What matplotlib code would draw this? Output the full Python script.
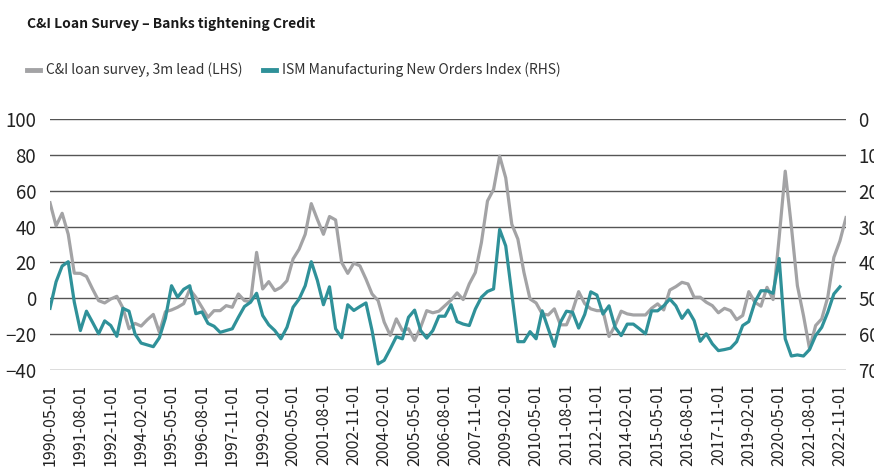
import matplotlib
matplotlib.use("Agg")
import matplotlib.pyplot as plt
import numpy as np
import pandas as pd
from matplotlib.lines import Line2D

# humanist, fairly narrow latin (Source Sans based) - closest to the original condensed face
FONT = ["Noto Sans CJK SC", "DejaVu Sans"]
plt.rcParams["font.family"] = FONT

GREY = "#a3a3a5"
TEAL = "#2f9199"
GRID = "#555555"

# quarterly, starting 1990-05-01; loan survey carries a 3m lead (one extra quarter)
dates = pd.date_range("1990-05-01", periods=132, freq="3MS")

# C&I loan survey, net % tightening (LHS)
loan_survey = [
    53.3, 40.4, 47.4, 35.7, 14.0, 13.9, 12.2, 5.2, -1.3, -2.6,
    -0.4, 1.1, -5.4, -17.0, -14.0, -15.5, -12.0, -9.0, -19.0, -7.5,
    -6.5, -5.0, -3.0, 5.0, 0.6, -5.0, -10.6, -6.9, -6.9, -4.1,
    -5.0, 2.4, -1.3, -2.0, 25.6, 5.2, 9.3, 4.3, 6.1, 9.8,
    21.9, 27.4, 35.7, 52.8, 44.0, 35.7, 45.6, 43.7, 20.0, 13.9,
    19.6, 18.1, 10.7, 2.4, -1.3, -13.3, -20.7, -11.5, -18.0, -17.0,
    -23.5, -16.1, -6.9, -8.1, -7.2, -4.1, -1.0, 3.0, -0.7, 8.0,
    14.4, 31.1, 54.3, 60.7, 79.3, 67.2, 41.3, 33.0, 14.4, -0.4,
    -2.6, -8.7, -9.3, -5.9, -14.8, -14.8, -6.9, 3.7, -3.0, -5.9,
    -6.9, -6.9, -21.3, -15.2, -7.2, -8.7, -9.3, -9.3, -9.3, -5.6,
    -3.1, -6.5, 4.6, 6.5, 8.9, 8.0, 0.6, 0.6, -2.2, -4.1,
    -8.1, -5.6, -6.9, -11.9, -9.6, 3.7, -2.2, -4.4, 6.1, -0.7,
    33.9, 70.9, 40.4, 7.0, -9.6, -28.1, -15.2, -11.5, 0.6, 22.8,
    32.0, 45.0,
]

# ISM Manufacturing New Orders Index (RHS, inverted)
ism_new_orders = [
    52.8, 45.4, 41.0, 39.8, 51.1, 59.0, 53.6, 56.7, 59.9, 56.3,
    57.6, 60.6, 52.8, 53.6, 60.0, 62.5, 63.0, 63.5, 61.0, 55.5,
    46.5, 49.7, 47.5, 46.5, 54.3, 53.8, 57.0, 57.8, 59.5, 59.0,
    58.5, 55.3, 52.3, 51.1, 48.6, 54.8, 57.4, 59.0, 61.3, 58.1,
    52.5, 50.2, 46.5, 39.8, 45.0, 51.8, 46.8, 58.5, 61.0, 51.8,
    53.4, 52.3, 51.3, 59.0, 68.3, 67.3, 64.1, 60.7, 61.3, 55.3,
    53.3, 59.0, 61.1, 59.0, 55.0, 55.0, 51.8, 56.5, 57.2, 57.6,
    53.0, 49.7, 48.1, 47.4, 30.8, 35.4, 48.8, 62.1, 62.1, 59.3,
    61.3, 53.5, 58.5, 63.4, 56.7, 53.6, 53.9, 58.3, 54.5, 48.2,
    49.1, 54.4, 52.1, 58.1, 60.4, 57.2, 57.2, 58.5, 59.9, 53.5,
    53.5, 52.1, 50.2, 52.1, 55.6, 53.3, 56.2, 62.0, 59.9, 62.7,
    64.6, 64.3, 63.9, 62.1, 57.6, 56.5, 51.1, 47.9, 47.9, 48.6,
    38.9, 61.3, 66.1, 65.8, 66.1, 64.3, 60.4, 58.1, 53.9, 48.8,
    46.8,
]

left_ticks = [-40, -20, 0, 20, 40, 60, 80, 100]
right_ticks = [0, 10, 20, 30, 40, 50, 60, 70]

fig = plt.figure(figsize=(8.74, 4.68), dpi=100)
ax = fig.add_axes([50 / 874, 98 / 468, 796 / 874, 251 / 468])
ax2 = ax.twinx()

x_loan = np.arange(len(loan_survey))
x_ism = np.arange(len(ism_new_orders))

ax.plot(x_loan, loan_survey, color=GREY, lw=2.3)
ax2.plot(x_ism, ism_new_orders, color=TEAL, lw=2.3)

ax.set_xlim(0, len(loan_survey) - 1)
ax.set_ylim(-40, 100)
ax2.set_ylim(70, 0)
ax.set_yticks(left_ticks)
ax2.set_yticks(right_ticks)

tick_pos = list(range(0, len(ism_new_orders), 5))
ax.set_xticks(tick_pos)
ax.set_xticklabels([dates[i].strftime("%Y-%m-%d") for i in tick_pos], rotation=90)

for a in (ax, ax2):
    for s in a.spines.values():
        s.set_visible(False)
    a.tick_params(length=0, labelsize=13.5, colors="#222222")
ax.tick_params(axis="y", pad=10)
ax.tick_params(axis="x", pad=10, labelsize=11.5)
ax2.tick_params(axis="y", pad=9)

ax.grid(axis="y", color=GRID, lw=1.0)
ax.set_axisbelow(True)

fig.text(27 / 874, 1 - 24 / 468, "C&I Loan Survey \u2013 Banks tightening Credit",
         fontsize=10, fontweight="bold", va="center", ha="left", color="#1a1a1a")

handles = [Line2D([], [], color=GREY, lw=3.5), Line2D([], [], color=TEAL, lw=3.5)]
fig.legend(handles, ["C&I loan survey, 3m lead (LHS)",
                     "ISM Manufacturing New Orders Index (RHS)"],
           loc="center left", bbox_to_anchor=(27 / 874, 1 - 70 / 468), ncol=2,
           frameon=False, fontsize=10, handlelength=0.95, handletextpad=0.4,
           columnspacing=1.5, borderpad=0, borderaxespad=0, labelcolor="#333333")

fig.savefig("out.png", dpi=100)
